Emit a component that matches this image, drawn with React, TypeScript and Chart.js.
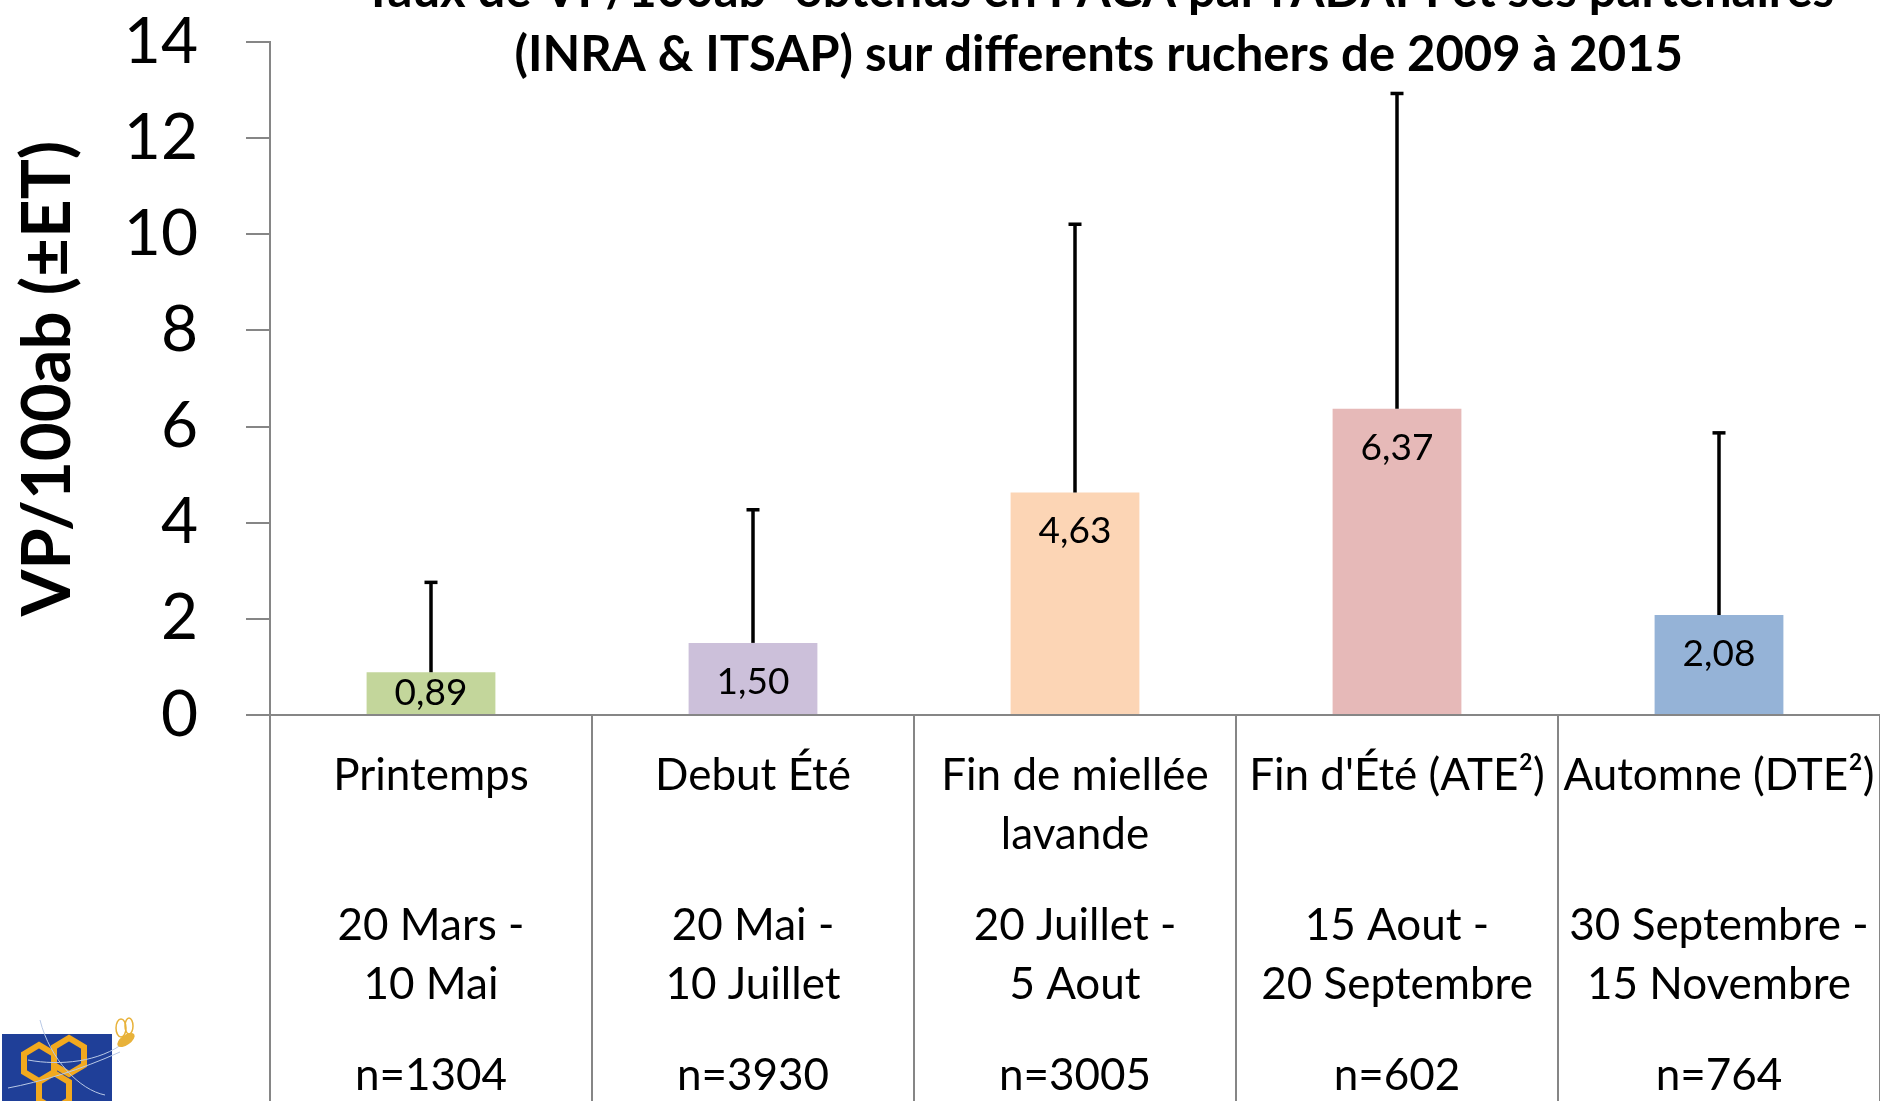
import React, { useEffect, useRef } from "react";
import { Chart, registerables } from "chart.js";

Chart.register(...registerables);

// ---- data ----
const titleLines = [
  "    Taux de VP/100ab¹ obtenus en PACA par l'ADAPI et ses partenaires",
  "    (INRA & ITSAP) sur differents ruchers de 2009 à 2015",
];
const seasonNames = [
  ["Printemps"],
  ["Debut Été"],
  ["Fin de miellée", "lavande"],
  ["Fin d'Été (ATE²)"],
  ["Automne (DTE²)"],
];
const periods = [
  ["20 Mars -", "10 Mai"],
  ["20 Mai -", "10 Juillet"],
  ["20 Juillet -", "5 Aout"],
  ["15 Aout -", "20 Septembre"],
  ["30 Septembre -", "15 Novembre"],
];
const sampleSizes = ["n=1304", "n=3930", "n=3005", "n=602", "n=764"];
const meanValues = [0.89, 1.5, 4.63, 6.37, 2.08];
const stdDevs = [1.89, 2.79, 5.6, 6.58, 3.81];
const barColors = ["#c3d69b", "#ccc0da", "#fcd5b5", "#e6b9b8", "#95b3d7"];
const yTitle = "VP/100ab (±ET)";
const yMin = 0;
const yMax = 14;
const yStep = 2;

const FONT = "Lato, 'Noto Sans', sans-serif";
const AXIS_GRAY = "#868686";

const errorBarPlugin = {
  id: "errorBars",
  afterDatasetsDraw(chart: any) {
    const meta = chart.getDatasetMeta(0);
    const yScale = chart.scales.y;
    const ctx = chart.ctx;
    ctx.save();
    ctx.strokeStyle = "#000";
    ctx.lineWidth = 3.5;
    meta.data.forEach((bar: any, i: number) => {
      const top = yScale.getPixelForValue(meanValues[i] + stdDevs[i]);
      ctx.beginPath();
      ctx.moveTo(bar.x, bar.y);
      ctx.lineTo(bar.x, top);
      ctx.stroke();
      ctx.beginPath();
      ctx.moveTo(bar.x - 6.5, top + 1);
      ctx.lineTo(bar.x + 6.5, top + 1);
      ctx.stroke();
    });
    ctx.restore();
  },
};

const valueLabelPlugin = {
  id: "valueLabels",
  afterDatasetsDraw(chart: any) {
    const meta = chart.getDatasetMeta(0);
    const ctx = chart.ctx;
    ctx.save();
    ctx.font = `37px ${FONT}`;
    ctx.fillStyle = "#000";
    ctx.textAlign = "center";
    ctx.textBaseline = "middle";
    meta.data.forEach((bar: any, i: number) => {
      const y = Math.min(bar.y + 39, bar.base - 21);
      ctx.fillText(meanValues[i].toFixed(2).replace(".", ","), bar.x, y);
    });
    ctx.restore();
  },
};

function Logo() {
  return (
    <svg
      width={180}
      height={111}
      style={{ position: "absolute", left: 0, top: 990 }}
      viewBox="0 0 180 111"
    >
      <rect x={2} y={44} width={110} height={67} fill="#1f3f98" />
      <g fill="none" stroke="#f2a91e" strokeWidth={6} strokeLinejoin="miter">
        <polygon points="24,64 39,55 54,64 54,82 39,91 24,82" />
        <polygon points="54,57 69,48 84,57 84,75 69,84 54,75" />
        <polygon points="39,92 54,83 69,92 69,110 54,119 39,110" />
      </g>
      <g fill="none" stroke="#b9c9e6" strokeWidth={1}>
        <path d="M40 30 C 50 70, 80 100, 105 105" />
        <path d="M8 98 C 40 92, 80 80, 120 62" />
        <path d="M28 70 C 60 76, 100 72, 125 52" />
      </g>
      <ellipse cx={126} cy={50} rx={10} ry={5} fill="#e8b23a" transform="rotate(-35 126 50)" />
      <ellipse cx={121} cy={38} rx={5} ry={9} fill="none" stroke="#e8b23a" strokeWidth={1.5} />
      <ellipse cx={129} cy={36} rx={4} ry={8} fill="none" stroke="#e8b23a" strokeWidth={1.5} />
    </svg>
  );
}

export default function App() {
  const canvasRef = useRef<HTMLCanvasElement | null>(null);

  useEffect(() => {
    if (!canvasRef.current) return;
    const chart = new Chart(canvasRef.current, {
      type: "bar",
      data: {
        labels: seasonNames,
        datasets: [
          {
            data: meanValues,
            backgroundColor: barColors,
            borderWidth: 0,
            barPercentage: 0.4,
            categoryPercentage: 1,
          },
        ],
      },
      options: {
        responsive: false,
        animation: false,
        devicePixelRatio: 1,
        layout: { padding: 0 },
        plugins: {
          legend: { display: false },
          tooltip: { enabled: false },
          title: {
            display: true,
            text: titleLines,
            fullSize: false,
            color: "#000",
            font: { family: FONT, size: 49, weight: "bold", lineHeight: "64px" },
            padding: { top: -41, bottom: -45 },
          },
        },
        scales: {
          x: {
            type: "category",
            position: "bottom",
            weight: 0,
            offset: true,
            grid: {
              offset: true,
              drawOnChartArea: false,
              drawTicks: true,
              tickLength: 165,
              color: AXIS_GRAY,
              lineWidth: 2,
            },
            border: { display: true, color: AXIS_GRAY, width: 2 },
            ticks: {
              autoSkip: false,
              maxRotation: 0,
              minRotation: 0,
              color: "#000",
              padding: -133.5,
              font: { family: FONT, size: 44, lineHeight: "59px" },
            },
            afterFit: (s: any) => {
              s.height = 165;
            },
          },
          x2: {
            type: "category",
            position: "bottom",
            weight: 1,
            labels: periods,
            offset: true,
            grid: {
              offset: true,
              drawOnChartArea: false,
              drawTicks: true,
              tickLength: 160,
              color: AXIS_GRAY,
              lineWidth: 2,
            },
            border: { display: false },
            ticks: {
              autoSkip: false,
              maxRotation: 0,
              minRotation: 0,
              color: "#000",
              padding: -143.5,
              font: { family: FONT, size: 44, lineHeight: "59px" },
            },
            afterFit: (s: any) => {
              s.height = 160;
            },
          },
          x3: {
            type: "category",
            position: "bottom",
            weight: 2,
            labels: sampleSizes,
            offset: true,
            grid: {
              offset: true,
              drawOnChartArea: false,
              drawTicks: true,
              tickLength: 61,
              color: AXIS_GRAY,
              lineWidth: 2,
            },
            border: { display: false },
            ticks: {
              autoSkip: false,
              maxRotation: 0,
              minRotation: 0,
              color: "#000",
              padding: -54.5,
              font: { family: FONT, size: 44, lineHeight: "59px" },
            },
            afterFit: (s: any) => {
              s.height = 61;
            },
          },
          y: {
            min: yMin,
            max: yMax,
            ticks: {
              stepSize: yStep,
              color: "#000",
              padding: 48,
              font: { family: FONT, size: 64 },
            },
            grid: {
              drawOnChartArea: false,
              drawTicks: true,
              tickLength: 24,
              color: AXIS_GRAY,
              lineWidth: 2,
            },
            border: { display: true, color: AXIS_GRAY, width: 2 },
            title: {
              display: true,
              text: yTitle,
              color: "#000",
              font: { family: FONT, size: 67, weight: "bold" },
              padding: { top: 8, bottom: 0 },
            },
            afterFit: (s: any) => {
              s.width = 270;
              s.paddingTop = 0;
              s.paddingBottom = 0;
            },
          },
        },
      },
      plugins: [errorBarPlugin, valueLabelPlugin],
    } as any);
    return () => chart.destroy();
  }, []);

  return (
    <div
      style={{
        position: "absolute",
        left: 0,
        top: 0,
        width: 1880,
        height: 1101,
        background: "#fff",
        overflow: "hidden",
      }}
    >
      <canvas ref={canvasRef} width={1880} height={1101} />
      <Logo />
    </div>
  );
}
